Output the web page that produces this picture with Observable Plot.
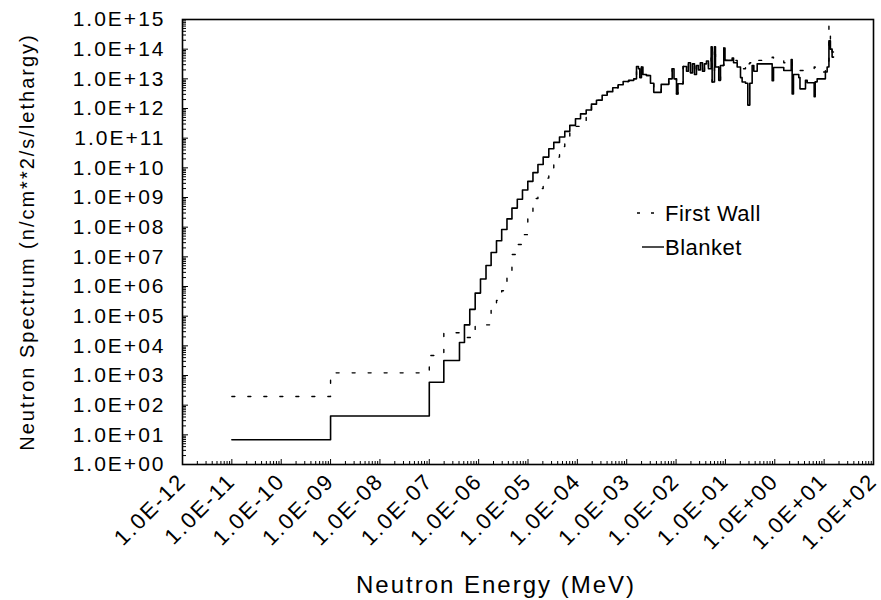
<!DOCTYPE html>
<html>
<head>
<meta charset="utf-8">
<script src="https://cdn.jsdelivr.net/npm/d3@7"></script>
<script src="https://cdn.jsdelivr.net/npm/@observablehq/plot@0.6"></script>
<style>
  html, body { margin: 0; padding: 0; background: white; }
  #wrap { position: relative; width: 881px; height: 600px; }
  #wrap svg text { letter-spacing: 2px; }
  #wrap svg text.ytitle { letter-spacing: 1.5px; }
  #legend { position: absolute; left: 0; top: 0; pointer-events: none; }
</style>
</head>
<body>
<div id="wrap"></div>
<script>
// Energy group boundaries (MeV)
const energyEdges = [
  1e-11, 1e-9, 1e-7, 1.97e-7, 4.09e-7, 5.16e-7, 6.61e-7, 8.51e-7, 1.09e-6, 1.41e-6,
  1.79e-6, 2.30e-6, 2.93e-6, 3.75e-6, 4.73e-6, 6.07e-6, 7.73e-6, 9.91e-6, 1.26e-5, 1.59e-5,
  2.03e-5, 2.64e-5, 3.33e-5, 4.35e-5, 5.56e-5, 7.03e-5, 9.16e-5, 1.16e-4, 1.51e-4, 1.93e-4,
  2.44e-4, 3.18e-4, 4.02e-4, 5.21e-4, 6.71e-4, 8.47e-4, 1.10e-3, 1.39e-3, 1.58e-3, 1.73e-3,
  1.84e-3, 1.99e-3, 2.13e-3, 2.51e-3, 3.03e-3, 3.53e-3, 4.99e-3, 7.11e-3, 8.34e-3, 9.08e-3,
  1.02e-2, 1.09e-2, 1.39e-2, 1.63e-2, 1.78e-2, 1.96e-2, 2.15e-2, 2.36e-2, 2.59e-2, 2.84e-2,
  3.12e-2, 3.43e-2, 3.76e-2, 4.13e-2, 4.53e-2, 5.14e-2, 5.38e-2, 6.00e-2, 6.28e-2, 7.33e-2,
  7.94e-2, 9.27e-2, 9.80e-2, 1.37e-1, 1.46e-1, 1.73e-1, 2.02e-1, 2.18e-1, 2.55e-1, 2.84e-1,
  3.12e-1, 3.48e-1, 3.76e-1, 4.40e-1, 8.85e-1, 9.42e-1, 1.52, 2.15, 2.25, 2.39,
  3.06, 3.24, 4.19, 4.53, 6.28, 6.58, 7.22, 10.6, 11.5, 12.5,
  13.4, 14.5, 15.5
];

// Blanket spectrum per group (n/cm^2/s/lethargy)
const blanket = [
  6.8, 43, 590, 3.2e3, 1.3e4, 5.1e4, 1.7e5, 6.0e5, 1.8e6, 5.1e6,
  1.4e7, 3.5e7, 8.3e7, 1.9e8, 4.4e8, 8.7e8, 1.8e9, 3.5e9, 6.9e9, 1.3e10,
  2.3e10, 4.4e10, 7.2e10, 1.1e11, 1.7e11, 2.7e11, 4.5e11, 6.6e11, 8.9e11, 1.4e12,
  1.9e12, 2.8e12, 3.7e12, 5.0e12, 6.3e12, 8.1e12, 8.9e12, 1.0e13, 2.6e13, 2.2e13,
  1.1e13, 2.5e13, 1.4e13, 1.3e13, 7.1e12, 3.5e12, 6.5e12, 1.0e13, 2.2e13, 1.0e13,
  3.1e12, 6.8e12, 2.6e13, 1.8e13, 3.5e13, 1.6e13, 3.2e13, 1.4e13, 2.8e13, 2.0e13,
  3.5e13, 1.8e13, 3.2e13, 4.0e13, 2.2e13, 1.2e14, 7.8e12, 1.2e14, 2.5e13, 8.9e12,
  2.8e13, 1.1e14, 4.2e13, 5.0e13, 3.5e13, 2.5e13, 1.1e13, 7.8e12, 7.1e12, 1.3e12,
  7.1e12, 2.8e13, 1.8e13, 3.2e13, 8.7e12, 2.4e13, 1.9e13, 4.5e13, 3.1e12, 1.4e13,
  1.1e13, 4.6e12, 8.9e12, 7.4e12, 2.5e12, 7.9e12, 1.0e13, 1.7e13, 2.5e13, 1.9e14,
  1.0e14, 5.4e13
];

// First wall spectrum per group
const firstWall = [
  195, 1230, 4.7e3, 2.75e4, 1.9e4, 1.9e4, 1.9e4, 5.1e4, 5.1e4, 5.1e4,
  1.66e5, 3.4e5, 7.2e5, 2.5e6, 1.2e7, 2.6e7, 5.6e7, 2.3e8, 9.3e8, 2.0e9,
  4.5e9, 1.0e10, 2.3e10, 5.2e10, 1.1e11, 1.5e11, 2.5e11, 3.9e11, 7.9e11, 1.35e12,
  1.9e12, 2.8e12, 3.7e12, 5.0e12, 6.3e12, 8.1e12, 8.9e12, 1.0e13, 2.6e13, 2.2e13,
  1.1e13, 2.5e13, 1.4e13, 1.3e13, 7.1e12, 3.5e12, 6.5e12, 1.0e13, 2.2e13, 1.0e13,
  3.1e12, 6.8e12, 2.6e13, 1.8e13, 3.5e13, 1.6e13, 3.2e13, 1.4e13, 2.8e13, 2.0e13,
  3.5e13, 1.8e13, 3.2e13, 4.0e13, 2.2e13, 1.2e14, 7.8e12, 1.2e14, 2.5e13, 8.9e12,
  2.8e13, 1.1e14, 4.2e13, 5.0e13, 4.2e13, 3.5e13, 2.8e13, 2.2e13, 4.0e13, 3.2e13,
  3.5e13, 4.0e13, 3.6e13, 4.2e13, 5.4e13, 4.2e13, 3.5e13, 4.4e13, 2.5e13, 2.2e13,
  2.0e13, 1.9e13, 2.0e13, 2.0e13, 2.5e13, 1.8e13, 1.7e13, 2.2e13, 4.0e13, 6.3e14,
  2.0e14, 8.0e13
];

const xDecades = [1e-12, 1e-11, 1e-10, 1e-9, 1e-8, 1e-7, 1e-6, 1e-5, 1e-4, 1e-3, 1e-2, 1e-1, 1e0, 1e1, 1e2];
const yDecades = [1e0, 1e1, 1e2, 1e3, 1e4, 1e5, 1e6, 1e7, 1e8, 1e9, 1e10, 1e11, 1e12, 1e13, 1e14, 1e15];
const minorMultipliers = [2, 3, 4, 5, 6, 7, 8, 9];

const xMinor = xDecades.slice(0, -1).flatMap(d => minorMultipliers.map(m => m * d));
const yMinor = yDecades.slice(0, -1).flatMap(d => minorMultipliers.map(m => m * d));

function stepSeries(values) {
  const rows = values.map((v, i) => ({e: energyEdges[i], v}));
  rows.push({e: energyEdges[values.length], v: values[values.length - 1]});
  return rows;
}
const blanketData = stepSeries(blanket);
const firstWallData = stepSeries(firstWall);

const sci = d => {
  const k = Math.round(Math.log10(d));
  return "1.0E" + (k < 0 ? "-" : "+") + String(Math.abs(k)).padStart(2, "0");
};

const chart = Plot.plot({
  width: 881,
  height: 600,
  marginLeft: 182,
  marginRight: 8,
  marginTop: 19,
  marginBottom: 136,
  style: {fontFamily: "'Liberation Sans', Arial, sans-serif", fontSize: "21px", background: "white", color: "black"},
  x: {type: "log", domain: [1e-12, 1e2]},
  y: {type: "log", domain: [1, 1e15]},
  marks: [
    Plot.line(firstWallData, {x: "e", y: "v", curve: "step-after", stroke: "black", strokeWidth: 1.4, strokeDasharray: "3,13"}),
    Plot.line(blanketData, {x: "e", y: "v", curve: "step-after", stroke: "black", strokeWidth: 1.6}),
    Plot.axisY(yDecades, {anchor: "left", tickSize: 0, tickPadding: 17, tickFormat: sci, label: null, fontSize: 21}),
    Plot.axisY(yDecades, {anchor: "left", tickSize: -6, tickFormat: () => "", label: null}),
    Plot.axisY(yMinor, {anchor: "left", tickSize: -4, tickFormat: () => "", label: null}),
    Plot.axisX(xDecades, {anchor: "bottom", tickSize: 0, tickPadding: 13, tickRotate: -45, tickFormat: sci, label: null, fontSize: 22}),
    Plot.axisX(xDecades, {anchor: "bottom", tickSize: -5, tickFormat: () => "", label: null}),
    Plot.axisX(xMinor, {anchor: "bottom", tickSize: -3, tickFormat: () => "", label: null}),
    Plot.frame({stroke: "black", strokeWidth: 1.6}),
    Plot.text(["Neutron Spectrum (n/cm**2/s/lethargy)"], {frameAnchor: "left", textAnchor: "middle", lineAnchor: "middle", rotate: -90, dx: -155, fontSize: 20, className: "ytitle"}),
    Plot.text(["Neutron Energy (MeV)"], {frameAnchor: "bottom", textAnchor: "middle", lineAnchor: "middle", dx: -32, dy: 121, fontSize: 24})
  ]
});

const wrap = document.getElementById("wrap");
wrap.appendChild(chart);

const legend = document.createElementNS("http://www.w3.org/2000/svg", "svg");
legend.setAttribute("id", "legend");
legend.setAttribute("width", "881");
legend.setAttribute("height", "600");
legend.innerHTML = `
  <line x1="637" x2="663" y1="213" y2="213" stroke="black" stroke-width="1.4" stroke-dasharray="3,11"/>
  <text x="665" y="221" font-family="'Liberation Sans', Arial, sans-serif" font-size="22" style="letter-spacing:0.5px">First Wall</text>
  <line x1="642" x2="664" y1="247" y2="247" stroke="black" stroke-width="1.4"/>
  <text x="665" y="255" font-family="'Liberation Sans', Arial, sans-serif" font-size="22" style="letter-spacing:0.5px">Blanket</text>
`;
wrap.appendChild(legend);
</script>
</body>
</html>
